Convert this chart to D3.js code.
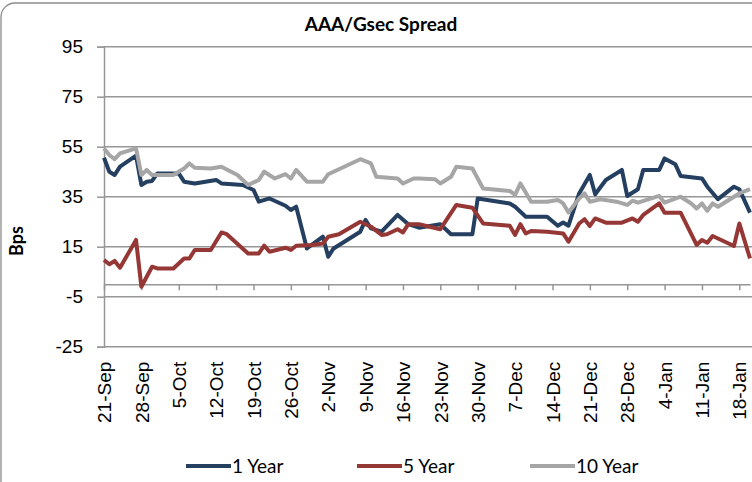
<!DOCTYPE html>
<html>
<head>
<meta charset="utf-8">
<script src="https://cdn.jsdelivr.net/npm/d3@7"></script>
<style>
  body { margin: 0; background: #fff; }
  svg { display: block; font-family: Lato, "Open Sans", sans-serif; }
</style>
</head>
<body>
<div id="chart"></div>
<script>
const kWidth = 752;
const kHeight = 482;
const kPlot = { left: 104, right: 750, top: 46.7, bottom: 346.7 };

const yTicks = [-25, -5, 15, 35, 55, 75, 95];
const xTickDates = ["2018-09-21", "2018-09-28", "2018-10-05", "2018-10-12", "2018-10-19", "2018-10-26",
  "2018-11-02", "2018-11-09", "2018-11-16", "2018-11-23", "2018-11-30", "2018-12-07", "2018-12-14",
  "2018-12-21", "2018-12-28", "2019-01-04", "2019-01-11", "2019-01-18"];

const oneYearDates = ["2018-09-21", "2018-09-22", "2018-09-23", "2018-09-24", "2018-09-27", "2018-09-28",
  "2018-09-29", "2018-09-30", "2018-10-01", "2018-10-05", "2018-10-06", "2018-10-08", "2018-10-12",
  "2018-10-13", "2018-10-17", "2018-10-19", "2018-10-20", "2018-10-22", "2018-10-25", "2018-10-26",
  "2018-10-27", "2018-10-29", "2018-11-01", "2018-11-02", "2018-11-03", "2018-11-08", "2018-11-09",
  "2018-11-10", "2018-11-12", "2018-11-15", "2018-11-17", "2018-11-19", "2018-11-23", "2018-11-25",
  "2018-11-29", "2018-11-30", "2018-12-06", "2018-12-07", "2018-12-09", "2018-12-13", "2018-12-15",
  "2018-12-16", "2018-12-17", "2018-12-19", "2018-12-21", "2018-12-22", "2018-12-24", "2018-12-27",
  "2018-12-28", "2018-12-30", "2018-12-31", "2019-01-03", "2019-01-04", "2019-01-06", "2019-01-07",
  "2019-01-11", "2019-01-12", "2019-01-14", "2019-01-17", "2019-01-18", "2019-01-20"];
const oneYearValues = [50.6, 45, 43.7, 47, 51.4, 39.7, 41, 41.3, 44.3, 44.3,
  41, 40.3, 41.7, 40.3, 39.7, 37.7, 33, 34.3, 31.4, 29.7,
  31, 14.3, 19, 11, 14.3, 21, 25.7, 22.3, 21, 27.7,
  24, 22.6, 24, 20, 20, 34.3, 32.3, 31, 27, 27,
  23.4, 24.7, 23.4, 36.3, 43.7, 36, 41.7, 45.7, 35.3, 38,
  45.7, 45.7, 50.3, 48, 43.3, 42.3, 39, 34, 39, 38, 28.6];

const fiveYearDates = ["2018-09-21", "2018-09-22", "2018-09-23", "2018-09-24", "2018-09-27", "2018-09-28",
  "2018-09-30", "2018-10-01", "2018-10-04", "2018-10-06", "2018-10-07", "2018-10-08", "2018-10-11",
  "2018-10-13", "2018-10-14", "2018-10-18", "2018-10-20", "2018-10-21", "2018-10-22", "2018-10-25",
  "2018-10-26", "2018-10-27", "2018-10-30", "2018-11-01", "2018-11-02", "2018-11-04", "2018-11-08",
  "2018-11-10", "2018-11-12", "2018-11-13", "2018-11-15", "2018-11-16", "2018-11-17", "2018-11-19",
  "2018-11-23", "2018-11-26", "2018-11-29", "2018-12-01", "2018-12-06", "2018-12-07", "2018-12-08",
  "2018-12-09", "2018-12-10", "2018-12-13", "2018-12-16", "2018-12-17", "2018-12-19", "2018-12-20",
  "2018-12-21", "2018-12-22", "2018-12-24", "2018-12-27", "2018-12-29", "2018-12-30", "2018-12-31",
  "2019-01-03", "2019-01-04", "2019-01-07", "2019-01-10", "2019-01-11", "2019-01-12", "2019-01-13",
  "2019-01-17", "2019-01-18", "2019-01-20"];
const fiveYearValues = [9.7, 8, 9.3, 6.6, 17.7, -1, 7, 6.3, 6.3, 10.3,
  10.3, 13.7, 13.7, 20.7, 20, 12.3, 12.3, 15.4, 13, 14.6,
  13.7, 15.4, 15.7, 16.3, 19, 20, 25, 23, 19.7, 20,
  22, 20.7, 24, 24, 22, 31.7, 30.6, 24.3, 23.4, 19.7,
  24, 20.3, 21.3, 21, 20.3, 17, 24.3, 26, 23.3, 26.3,
  24.6, 24.6, 26.3, 25, 27.7, 32.3, 28.6, 28.6, 15.7, 17.7,
  16.6, 19.3, 15.3, 24.3, 10.3];

const tenYearDates = ["2018-09-21", "2018-09-22", "2018-09-23", "2018-09-24", "2018-09-27", "2018-09-28",
  "2018-09-29", "2018-09-30", "2018-10-04", "2018-10-06", "2018-10-07", "2018-10-08", "2018-10-11",
  "2018-10-13", "2018-10-16", "2018-10-18", "2018-10-20", "2018-10-21", "2018-10-23", "2018-10-25",
  "2018-10-26", "2018-10-27", "2018-10-29", "2018-11-01", "2018-11-02", "2018-11-03", "2018-11-08",
  "2018-11-10", "2018-11-11", "2018-11-15", "2018-11-16", "2018-11-18", "2018-11-19", "2018-11-22",
  "2018-11-23", "2018-11-25", "2018-11-26", "2018-11-29", "2018-12-01", "2018-12-06", "2018-12-07",
  "2018-12-08", "2018-12-10", "2018-12-13", "2018-12-15", "2018-12-16", "2018-12-17", "2018-12-19",
  "2018-12-20", "2018-12-21", "2018-12-23", "2018-12-26", "2018-12-28", "2018-12-29", "2018-12-30",
  "2019-01-03", "2019-01-04", "2019-01-07", "2019-01-09", "2019-01-10", "2019-01-11", "2019-01-12",
  "2019-01-13", "2019-01-14", "2019-01-18", "2019-01-20"];
const tenYearValues = [54.3, 51.7, 50, 52.3, 54.3, 43.7, 45.7, 43.7, 43.7, 46.3,
  48.3, 46.6, 46.3, 47, 43.7, 39.7, 41.7, 45, 42.3, 44,
  42.3, 45.7, 41, 41, 44, 45, 50, 48.3, 43, 42.3,
  40.3, 42.3, 42.3, 42, 40.3, 43, 47, 46.3, 38.3, 37.3,
  35.7, 40.3, 33, 33, 33.7, 32.3, 28.7, 34.3, 36.3, 33,
  34, 33, 31.7, 33.4, 32.6, 35.3, 32.6, 35, 32.3, 30.3,
  32.3, 29.4, 32.3, 31, 36.3, 38];

const seriesNames = ["1 Year", "5 Year", "10 Year"];
const seriesColors = ["#243F60", "#953735", "#A6A6A6"];

const parseDate = d3.timeParse("%Y-%m-%d");

function drawChart()
{
  const svg = d3.select("#chart")
    .append("svg")
    .attr("width", kWidth)
    .attr("height", kHeight);

  svg.append("rect")
    .attr("x", 1).attr("y", 3)
    .attr("width", 790).attr("height", 520)
    .attr("rx", 14)
    .attr("fill", "#fff")
    .attr("stroke", "#8c8c8c")
    .attr("stroke-width", 1.3);

  const xScale = d3.scaleTime()
    .domain([parseDate("2018-09-21"), parseDate("2019-01-20")])
    .range([kPlot.left, kPlot.right]);

  const yScale = d3.scaleLinear()
    .domain([-25, 95])
    .range([kPlot.bottom, kPlot.top]);

  // gridlines
  svg.append("g")
    .selectAll("line")
    .data(yTicks)
    .enter()
    .append("line")
    .attr("x1", kPlot.left)
    .attr("x2", kPlot.right + 2)
    .attr("y1", d => yScale(d))
    .attr("y2", d => yScale(d))
    .attr("stroke", "#969696")
    .attr("stroke-width", 1.5);

  const yAxis = d3.axisLeft(yScale)
    .tickValues(yTicks)
    .tickFormat(d => String(d))
    .tickSize(7)
    .tickPadding(14);

  svg.append("g")
    .attr("transform", `translate(${kPlot.left}, 0)`)
    .call(yAxis)
    .call(g => g.select(".domain").attr("stroke", "#969696").attr("stroke-width", 1.5))
    .call(g => g.selectAll(".tick line").attr("stroke", "#969696").attr("stroke-width", 1.5))
    .selectAll("text")
    .style("font-size", "19px")
    .attr("fill", "#000");

  const tickDates = xTickDates.map(parseDate);

  // category axis crossing at zero
  svg.append("g")
    .attr("transform", `translate(0, ${yScale(0)})`)
    .call(d3.axisBottom(xScale).tickValues(tickDates).tickSize(6).tickFormat("").tickSizeOuter(0))
    .call(g => g.select(".domain").attr("stroke", "#969696").attr("stroke-width", 1.5))
    .call(g => g.selectAll(".tick line").attr("stroke", "#969696").attr("stroke-width", 1.5));

  // labels at the low position
  svg.append("g")
    .attr("transform", `translate(0, ${kPlot.bottom})`)
    .call(d3.axisBottom(xScale).tickValues(tickDates).tickSize(0).tickFormat(d3.timeFormat("%-d-%b")))
    .call(g => g.select(".domain").remove())
    .selectAll("text")
    .style("font-size", "19px")
    .attr("fill", "#000")
    .attr("text-anchor", "end")
    .attr("dy", "0.35em")
    .attr("transform", "translate(0, 15) rotate(-90)")
    .attr("x", 0)
    .attr("y", 0);

  const line = d3.line()
    .x(d => xScale(d.date))
    .y(d => yScale(d.value));

  const series = [
    { dates: oneYearDates, values: oneYearValues },
    { dates: fiveYearDates, values: fiveYearValues },
    { dates: tenYearDates, values: tenYearValues }
  ];

  series.forEach((s, i) => {
    const pts = s.dates.map((d, j) => ({ date: parseDate(d), value: s.values[j] }));
    svg.append("path")
      .datum(pts)
      .attr("d", line)
      .attr("fill", "none")
      .attr("stroke", seriesColors[i])
      .attr("stroke-width", 4)
      .attr("stroke-linejoin", "round");
  });

  svg.append("text")
    .attr("x", 381)
    .attr("y", 31)
    .attr("text-anchor", "middle")
    .style("font-size", "19px")
    .style("font-weight", "bold")
    .text("AAA/Gsec Spread");

  svg.append("text")
    .attr("transform", `translate(23, 241) rotate(-90)`)
    .attr("text-anchor", "middle")
    .style("font-size", "18px")
    .style("font-weight", "bold")
    .text("Bps");

  const legendX = [186, 357, 530];
  const legend = svg.append("g");
  seriesNames.forEach((name, i) => {
    legend.append("line")
      .attr("x1", legendX[i]).attr("x2", legendX[i] + 45)
      .attr("y1", 466).attr("y2", 466)
      .attr("stroke", seriesColors[i])
      .attr("stroke-width", 4);
    legend.append("text")
      .attr("x", legendX[i] + 46)
      .attr("y", 466)
      .attr("dy", "0.35em")
      .style("font-size", "19px")
      .text(name);
  });
}

document.addEventListener("DOMContentLoaded", drawChart);
</script>
</body>
</html>
